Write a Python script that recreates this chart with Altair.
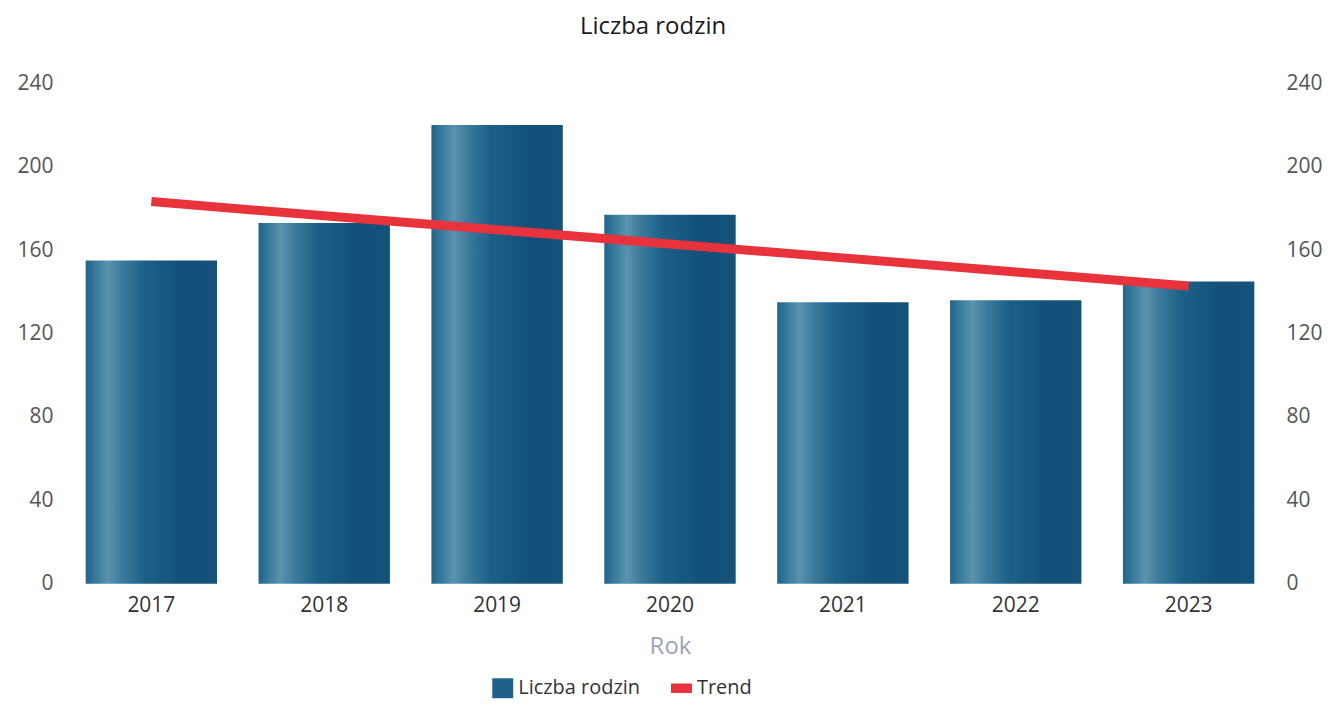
import altair as alt
import pandas as pd

years = ["2017", "2018", "2019", "2020", "2021", "2022", "2023"]
families = [155, 173, 220, 177, 135, 136, 145]
trend = [183.3, 176.5, 169.8, 163.0, 156.3, 149.5, 142.8]
series_names = ["Liczba rodzin", "Trend"]
series_colors = ["#1f6189", "#e8333c"]
series_shapes = ["M-1,-0.95H1V0.95H-1Z", "M-1,-0.45H1V0.45H-1Z"]
y_ticks = [0, 40, 80, 120, 160, 200, 240]

df = pd.DataFrame({"Rok": years, "Liczba": families, "Trend": trend})
legend_df = pd.DataFrame({"s": series_names})

FONT = "Open Sans"

x = alt.X(
    "Rok:N", title="Rok", sort=years,
    scale=alt.Scale(paddingInner=0.24, paddingOuter=0.12),
    axis=alt.Axis(labelAngle=0, labelFontSize=21, labelColor="#333333",
                  titleFontSize=24, titleColor="#9ca4b6", titleFontWeight="normal",
                  labelPadding=11, titlePadding=19, ticks=False, domain=False),
)

yscale = alt.Scale(domain=[0, 240], nice=False)

gradient = alt.Gradient(
    gradient="linear", x1=0, x2=1, y1=0, y2=0,
    stops=[
        alt.GradientStop(color="#20658c", offset=0),
        alt.GradientStop(color="#3a7b9e", offset=0.08),
        alt.GradientStop(color="#5a93ad", offset=0.17),
        alt.GradientStop(color="#3b7a9c", offset=0.28),
        alt.GradientStop(color="#1c6088", offset=0.45),
        alt.GradientStop(color="#124f79", offset=0.75),
        alt.GradientStop(color="#16537b", offset=1),
    ],
)

bars = alt.Chart(df).mark_bar(color=gradient).encode(
    x=x,
    y=alt.Y("Liczba:Q", scale=yscale, title=None,
            axis=alt.Axis(values=y_ticks, grid=False, ticks=False, domain=False,
                          labelFontSize=21, labelColor="#555555", labelPadding=12)),
)

line = alt.Chart(df).mark_line(strokeWidth=9, strokeCap="butt", color="#e8333c").encode(
    x=x,
    y=alt.Y("Trend:Q", scale=yscale, title=None,
            axis=alt.Axis(orient="right", values=y_ticks, grid=False, ticks=False,
                          domain=False, labelFontSize=21, labelColor="#555555",
                          labelPadding=11)),
)

legend_layer = alt.Chart(legend_df).mark_point(filled=True, strokeWidth=0, opacity=1).encode(
    color=alt.Color("s:N", scale=alt.Scale(domain=series_names, range=series_colors),
                    legend=alt.Legend(title=None, orient="none", legendX=428, legendY=595,
                                      direction="horizontal", symbolSize=441,
                                      labelFontSize=20, labelColor="#333333",
                                      labelFont=FONT, labelOffset=5, columnPadding=30,
                                      symbolStrokeWidth=0, symbolOpacity=1)),
    shape=alt.Shape("s:N", scale=alt.Scale(domain=series_names, range=series_shapes)),
).transform_filter("false")

chart = alt.layer(bars, line, legend_layer).resolve_scale(y="independent").properties(
    width=1212, height=501,
    title=alt.Title("Liczba rodzin", fontSize=24, font=FONT, fontWeight="normal",
                    color="#1a1a1a", offset=33, dx=-17),
    padding={"left": 8, "right": 0, "top": 7, "bottom": 0},
).configure_view(stroke=None).configure_axis(labelFont=FONT, titleFont=FONT)

chart.save("out.html", embed_options={"renderer": "svg", "actions": False})
